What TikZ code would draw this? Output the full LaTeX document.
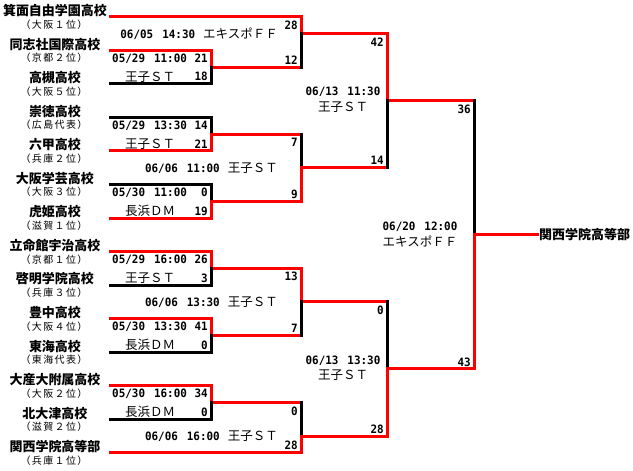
\documentclass[tikz,border=0pt]{standalone}
\usepackage{fontspec}
\newfontfamily\jpfam{Noto Sans CJK JP}
\newfontfamily\jpsub{Noto Sans CJK JP}[LetterSpace=14]
\newfontfamily\numfam{DejaVu Sans Mono}[FakeStretch=0.95]
\newcommand\nmf{\numfam\bfseries\fontsize{11.5}{11.5}\selectfont}
\newcommand\vnf{\jpfam\fontsize{12.5}{12.5}\selectfont}
\newcommand\dtm[2]{{\nmf #1\hspace{9pt}#2}}
\tikzset{
  wl/.style={line width=3pt, line cap=rect},
  rl/.style={wl, draw=red},
  bl/.style={wl, draw=black},
  team/.style={font=\jpfam\bfseries\fontsize{13}{13}\selectfont, inner sep=0pt},
  subt/.style={font=\jpsub\fontsize{10}{10}\selectfont, inner sep=0pt},
  venue/.style={font=\vnf, inner sep=0pt},
  num/.style={font=\nmf, inner sep=0pt},
  lbl/.style={inner sep=0pt},
}
\begin{document}
\begin{tikzpicture}[x=1pt,y=-16.77pt]
\useasboundingbox (0,0) rectangle (633,28.03);

% teams
\foreach \i/\n/\s in {1/箕面自由学園高校/（大阪１位）,2/同志社国際高校/（京都２位）,3/高槻高校/（大阪５位）,
  4/崇徳高校/（広島代表）,5/六甲高校/（兵庫２位）,6/大阪学芸高校/（大阪３位）,7/虎姫高校/（滋賀１位）,
  8/立命館宇治高校/（京都１位）,9/啓明学院高校/（兵庫３位）,10/豊中高校/（大阪４位）,11/東海高校/（東海代表）,
  12/大産大附属高校/（大阪２位）,13/北大津高校/（滋賀２位）,14/関西学院高等部/（兵庫１位）}{
  \pgfmathtruncatemacro\k{2*\i-1}
  \node[team] (n\i) at (55,{\k-0.36}) {\n};
  \node[subt] (u\i) at (54,{\k+0.46}) {\s};
  \coordinate (T\i) at (110,\k);
}

% match junction coordinates: name/x/top/mid/bottom
\foreach \m/\x/\t/\c/\b in {A/211/3/4/5,B/211/7/8/9,C/211/11/12/13,D/211/15/16/17,E/211/19/20/21,F/211/23/24/25,
  P/301/1/2/4,Q/301/8/10/12,R/301/16/18/20,S/301/24/26/27,U/387/2/6/10,V/387/18/22/26,W/474/6/14/22}{
  \coordinate (\m t) at (\x,\t);
  \coordinate (\m m) at (\x,\c);
  \coordinate (\m b) at (\x,\b);
}

% horizontals
\draw[bl] (T3) -- (Ab);
\draw[bl] (T4) -- (Bt);
\draw[bl] (T6) -- (Ct);
\draw[bl] (T9) -- (Db);
\draw[bl] (T11) -- (Eb);
\draw[bl] (T13) -- (Fb);
\draw[rl] (T1) -- (Pt);
\draw[rl] (T2) -- (At);
\draw[rl] (T5) -- (Bb);
\draw[rl] (T7) -- (Cb);
\draw[rl] (T8) -- (Dt);
\draw[rl] (T10) -- (Et);
\draw[rl] (T12) -- (Ft);
\draw[rl] (T14) -- (Sb);
\draw[rl] (Am) -- (Pb);
\draw[rl] (Bm) -- (Qt);
\draw[rl] (Cm) -- (Qb);
\draw[rl] (Dm) -- (Rt);
\draw[rl] (Em) -- (Rb);
\draw[rl] (Fm) -- (St);
\draw[rl] (Pm) -- (Ut);
\draw[rl] (Qm) -- (Ub);
\draw[rl] (Rm) -- (Vt);
\draw[rl] (Sm) -- (Vb);
\draw[rl] (Um) -- (Wt);
\draw[rl] (Vm) -- (Wb);

% verticals: top half / bottom half
\foreach \m/\tc/\bc in {A/rl/bl,B/bl/rl,C/bl/rl,D/rl/bl,E/rl/bl,F/rl/bl,P/rl/bl,Q/bl/rl,R/rl/bl,S/bl/rl,U/rl/bl,V/bl/rl,W/bl/rl}{
  \draw[\tc] (\m t) -- (\m m);
  \draw[\bc] (\m m) -- (\m b);
}

% champion
\node[team, anchor=west] (champ) at (539,14) {関西学院高等部};
\draw[rl] (Wm) -- (champ.west -| 537,0);

% round 1 labels
\foreach \m/\t/\d/\h/\ts/\v/\bs in {A/3/05\slash 29/11:00/21/王子ＳＴ/18,B/7/05\slash 29/13:30/14/王子ＳＴ/21,
  C/11/05\slash 30/11:00/0/長浜ＤＭ/19,D/15/05\slash 29/16:00/26/王子ＳＴ/3,
  E/19/05\slash 30/13:30/41/長浜ＤＭ/0,F/23/05\slash 30/16:00/34/長浜ＤＭ/0}{
  \node[num, anchor=west] (\m d) at (112,{\t+0.48}) {\d\hspace{9pt}\h};
  \node[num, anchor=east] (\m s1) at (208,{\t+0.48}) {\ts};
  \node[venue] (\m v) at (150,{\t+2-0.42}) {\v};
  \node[num, anchor=east] (\m s2) at (208,{\t+2-0.42}) {\bs};
}

% later-round scores
\foreach \m/\x/\t/\b/\ts/\bs in {P/298/1/4/28/12,Q/298/8/12/7/9,R/298/16/20/13/7,S/298/24/27/0/28,
  U/384/2/10/42/14,V/384/18/26/0/28,W/471/6/22/36/43}{
  \node[num, anchor=east] (\m s1) at (\x,{\t+0.5}) {\ts};
  \node[num, anchor=east] (\m s2) at (\x,{\b-0.42}) {\bs};
}

% round 2 labels
\node[lbl, anchor=east] (Pl) at (278,2) {\dtm{06/05}{14:30}\hspace{8pt}{\vnf エキスポＦＦ}};
\node[lbl, anchor=east] (Ql) at (278,10) {\dtm{06/06}{11:00}\hspace{8pt}{\vnf 王子ＳＴ}};
\node[lbl, anchor=east] (Rl) at (278,18) {\dtm{06/06}{13:30}\hspace{8pt}{\vnf 王子ＳＴ}};
\node[lbl, anchor=east] (Sl) at (278,26) {\dtm{06/06}{16:00}\hspace{8pt}{\vnf 王子ＳＴ}};

% round 3 and final labels
\node[lbl] (Ul1) at (343,5.5) {\dtm{06/13}{11:30}};
\node[venue] (Ul2) at (343,6.4) {王子ＳＴ};
\node[lbl] (Vl1) at (343,21.5) {\dtm{06/13}{13:30}};
\node[venue] (Vl2) at (343,22.4) {王子ＳＴ};
\node[lbl] (Wl1) at (420,13.5) {\dtm{06/20}{12:00}};
\node[venue] (Wl2) at (420,14.4) {エキスポＦＦ};
\end{tikzpicture}
\end{document}
